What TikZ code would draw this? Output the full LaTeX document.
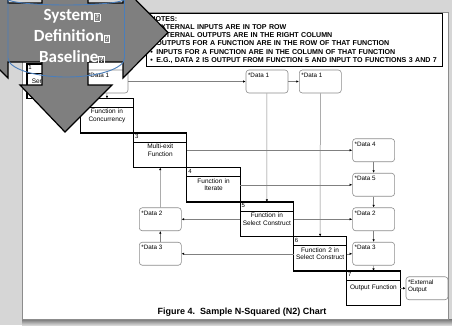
\documentclass[tikz,border=0pt]{standalone}
\usepackage{fontspec}
\setmainfont{Liberation Sans}
\newfontfamily\slidefont{Carlito}
\usetikzlibrary{positioning}
\usetikzlibrary{arrows.meta}
\definecolor{slidegray}{HTML}{D6D6D6}
\definecolor{arrowgray}{HTML}{7F7F7F}
\definecolor{cylblue}{HTML}{4A7EBB}
\newcommand{\dtxt}[1]{\parbox[t][17pt][t]{38pt}{\raggedright #1}}
\newcommand{\qbox}{{\fboxsep=0.6pt\fboxrule=0.7pt\fbox{\fontsize{8}{8}\selectfont ?}}}
\tikzset{
pagebox/.style={fill=white, draw=black!45, line width=0.6pt},
func/.style={ % function boxes on the diagonal
draw, line width=1.1pt, outer sep=0pt, inner sep=0pt,
minimum width=53.3pt, minimum height=34.5pt,
text width=50pt, align=center,
font=\fontsize{6.5}{7.8}\selectfont},
fnum/.style={anchor=north west, inner sep=1.2pt, font=\fontsize{6}{6}\selectfont},
dbox/.style={ % data items
draw=black!45, rounded corners=3pt, line width=0.6pt,
minimum width=42pt, minimum height=23pt, inner sep=1.5pt,
font=\fontsize{6.3}{7.4}\selectfont},
flow/.style={draw=black!50, line width=0.5pt, ->},
>={Latex[length=2.6pt, width=2.4pt, color=black]},
notes/.style={draw, line width=0.8pt, anchor=north west,
text width=288pt, minimum height=52pt, inner xsep=4pt, align=left,
font=\bfseries\fontsize{7.1}{8.1}\selectfont},
bigarrow/.style={fill=arrowgray, draw=black, line width=1.2pt, line join=miter},
cyl/.style={draw=cylblue, line width=0.9pt},
slidetext/.style={text=white, align=center,
font=\slidefont\bfseries\fontsize{17}{21.3}\selectfont}}
\newcommand{\bul}{\makebox[6pt][l]{\textbullet}}

\begin{document}
\begin{tikzpicture}[x=1pt, y=-1pt]
\useasboundingbox (0,0) rectangle (452,325);
% slide and page
\fill[slidegray] (0,0) rectangle (452,325);
\shade[top color=black!55, bottom color=slidegray] (22,319) rectangle (452,325);
\draw[pagebox] (22,12) rectangle (448,319);

\node[notes] (notes) at (146,13) {NOTES:\\
\bul EXTERNAL INPUTS ARE IN TOP ROW\\
\bul EXTERNAL OUTPUTS ARE IN THE RIGHT COLUMN\\
\bul OUTPUTS FOR A FUNCTION ARE IN THE ROW OF THAT FUNCTION\\
\bul INPUTS FOR A FUNCTION ARE IN THE COLUMN OF THAT FUNCTION\\
\bul E.G., DATA 2 IS OUTPUT FROM FUNCTION 5 AND INPUT TO FUNCTIONS 3 AND 7};

% functions
\node[func, anchor=north west] (f1) at (27,64) {Serial Function};
\node[func, below right=0pt and 0pt of f1.south east] (f2) {Function in\\Concurrency};
\node[func, below right=0pt and 0pt of f2.south east] (f3) {Multi-exit\\Function};
\node[func, below right=0pt and 0pt of f3.south east] (f4) {Function in\\Iterate};
\node[func, below right=0pt and 0pt of f4.south east] (f5) {Function in\\Select Construct};
\node[func, below right=0pt and 0pt of f5.south east] (f6) {Function 2 in\\Select Construct};
\node[func, below right=0pt and 0pt of f6.south east] (f7) {Output Function};
\foreach \i in {1,...,7}{
\node[fnum] (n\i) at (f\i.north west) {\i};
\draw[line width=0.5pt] ([yshift=-9pt]f\i.north west) -- ([yshift=-9pt]f\i.north east);
}

% data items
\node[dbox] (d1a) at (107,81.5) {\dtxt{*Data 1}};
\node[dbox] (d1b) at (267,81.5) {\dtxt{*Data 1}};
\node[dbox] (d1c) at (320.3,81.5) {\dtxt{*Data 1}};
\node[dbox] (d4) at (373.6,150.25) {\dtxt{*Data 4}};
\node[dbox] (d5) at (373.6,184.75) {\dtxt{*Data 5}};
\node[dbox] (d2r) at (373.6,219.25) {\dtxt{*Data 2}};
\node[dbox] (d3r) at (373.6,253.75) {\dtxt{*Data 3}};
\node[dbox] (d2l) at (160.3,219.25) {\dtxt{*Data 2}};
\node[dbox] (d3l) at (160.3,253.75) {\dtxt{*Data 3}};
\node[dbox] (ext) at (427,288.25) {\dtxt{*External\\Output}};

% connectors
\draw[flow] (f1) -- (d1a);
\draw[flow] (d1a) -- (d1b);
\draw[flow] (d1b) -- (d1c);
\draw[flow] (d1a) -- (f2);
\draw[flow] (d1b) -- (f5);
\draw[flow] (d1c) -- (f6);
\draw[flow] (f3) -- (d4);
\draw[flow] (f4) -- (d5);
\draw[flow] (f5) -- (d2r);
\draw[flow] (f5) -- (d2l);
\draw[flow] (f6) -- (d3l);
\draw[flow] (f6) -- (d3r);
\draw[flow] (d3l) -- (d2l);
\draw[flow] (d2l) -- (f3);
\draw[flow] (d4) -- (d5);
\draw[flow] (d5) -- (d2r);
\draw[flow] (d2r) -- (d3r);
\draw[flow] (d3r) -- (f7);
\draw[flow] (f7) -- (ext);

\node[font=\bfseries\fontsize{9}{9}\selectfont] (cap) at (242,312) {Figure 4.\ \ Sample N-Squared (N2) Chart};

% slide overlay
\draw[bigarrow] (42,-12) -- (42,3) -- (8,3) -- (8,-13) -- (-37,32.5) -- (8,78) -- (8,62)
  -- (42,62) -- (42,85) -- (20,85) -- (65,132) -- (112,85) -- (88,85) -- (88,62)
  -- (123,62) -- (123,78) -- (168,32.5) -- (123,-13) -- (123,3) -- (88,3) -- (88,-12) -- cycle;
\draw[cyl] (8,-1) arc[start angle=180, end angle=0, x radius=58.25, y radius=6]
  -- (124.5,58) arc[start angle=0, end angle=180, x radius=58.25, y radius=19] -- cycle;
\node[slidetext] (base) at (72,36.5) {System\qbox\\Definition\qbox\\Baseline\qbox};
\end{tikzpicture}
\end{document}
